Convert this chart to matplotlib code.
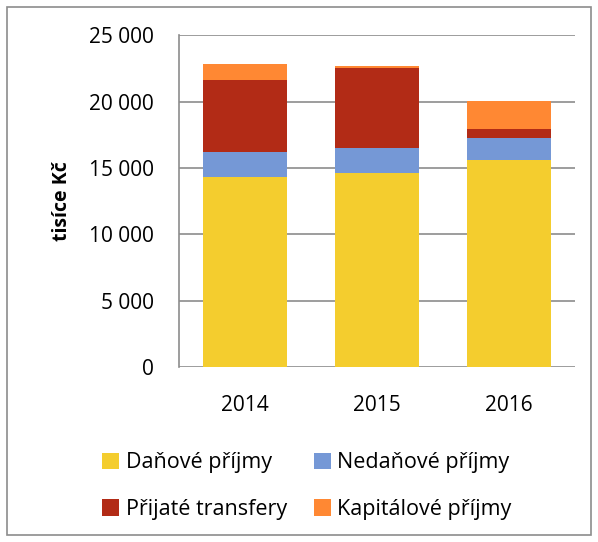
import matplotlib.pyplot as plt
import matplotlib.ticker as mticker
from matplotlib.patches import Rectangle

years = ['2014', '2015', '2016']
danove = [14330, 14630, 15560]
nedanove = [1840, 1840, 1660]
transfery = [5420, 6050, 750]
kapitalove = [1250, 150, 2110]

series = [
    ('Daňové příjmy', danove, '#F4CD2E'),
    ('Nedaňové příjmy', nedanove, '#7598D6'),
    ('Přijaté transfery', transfery, '#B22B16'),
    ('Kapitálové příjmy', kapitalove, '#FF8833'),
]

plt.rcParams['font.family'] = ['Open Sans', 'DejaVu Sans']

fig = plt.figure(figsize=(5.98, 5.42), dpi=100)
ax = fig.add_axes([0.299, 0.323, 0.663, 0.612])

x = range(len(years))
bottom = [0, 0, 0]
handles = []
for name, vals, col in series:
    b = ax.bar(x, vals, width=0.64, bottom=bottom, color=col, label=name, zorder=3)
    handles.append(b)
    bottom = [bottom[i] + vals[i] for i in range(len(vals))]

ax.set_xlim(-0.5, 2.5)
ax.set_ylim(0, 25000)
ax.set_xticks(list(x))
ax.set_xticklabels(years, fontsize=15)
ax.yaxis.set_major_locator(mticker.MultipleLocator(5000))
ax.yaxis.set_major_formatter(mticker.FuncFormatter(lambda v, p: f'{int(v):,}'.replace(',', ' ')))
ax.tick_params(axis='y', labelsize=15, length=0, pad=18)
ax.tick_params(axis='x', length=0, pad=20)
ax.grid(axis='y', color='#8c8c8c', linewidth=1.2, zorder=0)
for s in ['top', 'right', 'bottom']:
    ax.spines[s].set_visible(False)
ax.spines['left'].set_color('#8c8c8c')
ax.spines['left'].set_linewidth(1.2)
ax.set_ylabel('tisíce Kč', fontsize=14, fontweight='bold', labelpad=12)

# row-wise order like the original
order = [0, 2, 1, 3]
fig.legend(handles=[handles[i] for i in order], loc='center', bbox_to_anchor=(0.513, 0.103), ncol=2,
           frameon=False, fontsize=15.5, handlelength=0.8, handleheight=0.8,
           handletextpad=0.3, columnspacing=1.25, labelspacing=1.2)

fig.patches.append(Rectangle((0.012, 0.012), 0.976, 0.976, transform=fig.transFigure,
                             fill=False, edgecolor='#8c8c8c', linewidth=1.2))

fig.savefig('out.png', dpi=100)
